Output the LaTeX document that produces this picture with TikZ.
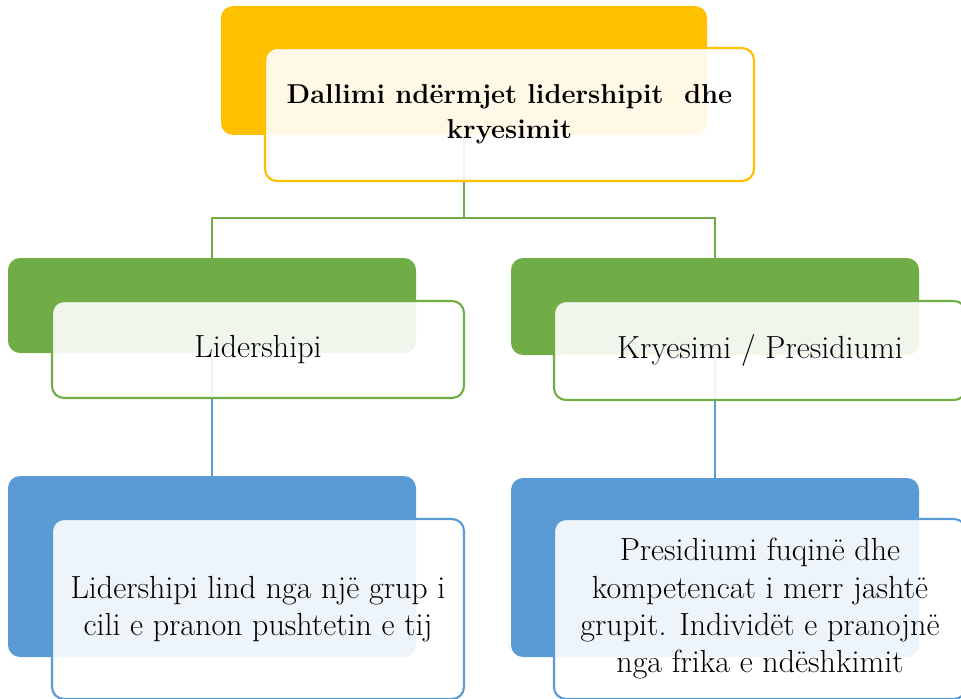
\documentclass[tikz,border=0pt]{standalone}
\usepackage{tikz}
\definecolor{orng}{HTML}{FFC000}
\definecolor{grn}{HTML}{70AD47}
\definecolor{blu}{HTML}{5B9BD5}
\tikzset{
  back/.style={rectangle,rounded corners=9pt,minimum width=306pt,inner sep=0pt},
  front/.style={rectangle,rounded corners=9pt,line width=1.6pt,fill=white,fill opacity=0.9,text opacity=1,
    minimum width=309pt,align=center,inner sep=0pt,font=\fontsize{24}{28}\selectfont},
  link/.style={line width=1.8pt}
}
\begin{document}
\begin{tikzpicture}[x=0.75pt,y=-0.75pt]
\useasboundingbox (0,0) rectangle (961,699);
% back boxes
\node (topback) at (464,70.5) [back,fill=orng,minimum width=364.5pt,minimum height=96.75pt] {};
\node (gbL) at (212,305.5) [back,fill=grn,minimum height=71.25pt] {};
\node (gbR) at (715,306.5) [back,fill=grn,minimum height=72.75pt] {};
\node (bbL) at (212,566.5) [back,fill=blu,minimum height=135.75pt] {};
\node (bbR) at (715,567.5) [back,fill=blu,minimum height=134.25pt] {};
% connectors
\draw[link,grn] (topback.south) -- ++(0,83) -| (gbL.north);
\draw[link,grn] (topback.south) -- ++(0,83) -| (gbR.north);
\draw[link,blu] (gbL.south) -- (bbL.north);
\draw[link,blu] (gbR.south) -- (bbR.north);
% front boxes
\node (top) at (509.5,114.5) [front,draw=orng,minimum width=366.75pt,minimum height=99.75pt,font=\fontsize{20.5}{26}\selectfont\bfseries] {Dallimi ndërmjet lidershipit~ dhe\\kryesimit};
\node (lid) at (258,349.5) [front,draw=grn,minimum height=72.75pt] {Lidershipi};
\node (kry) at (760,350.5) [front,draw=grn,minimum height=74.25pt] {Kryesimi / Presidiumi};
\node (lidtxt) at (258,609) [front,draw=blu,minimum height=135pt] {Lidershipi lind nga një grup i\\cili e pranon pushtetin e tij};
\node (krytxt) at (760,609) [front,draw=blu,minimum height=135pt] {Presidiumi fuqinë dhe\\kompetencat i merr jashtë\\grupit. Individët e pranojnë\\nga frika e ndëshkimit};
\end{tikzpicture}
\end{document}
